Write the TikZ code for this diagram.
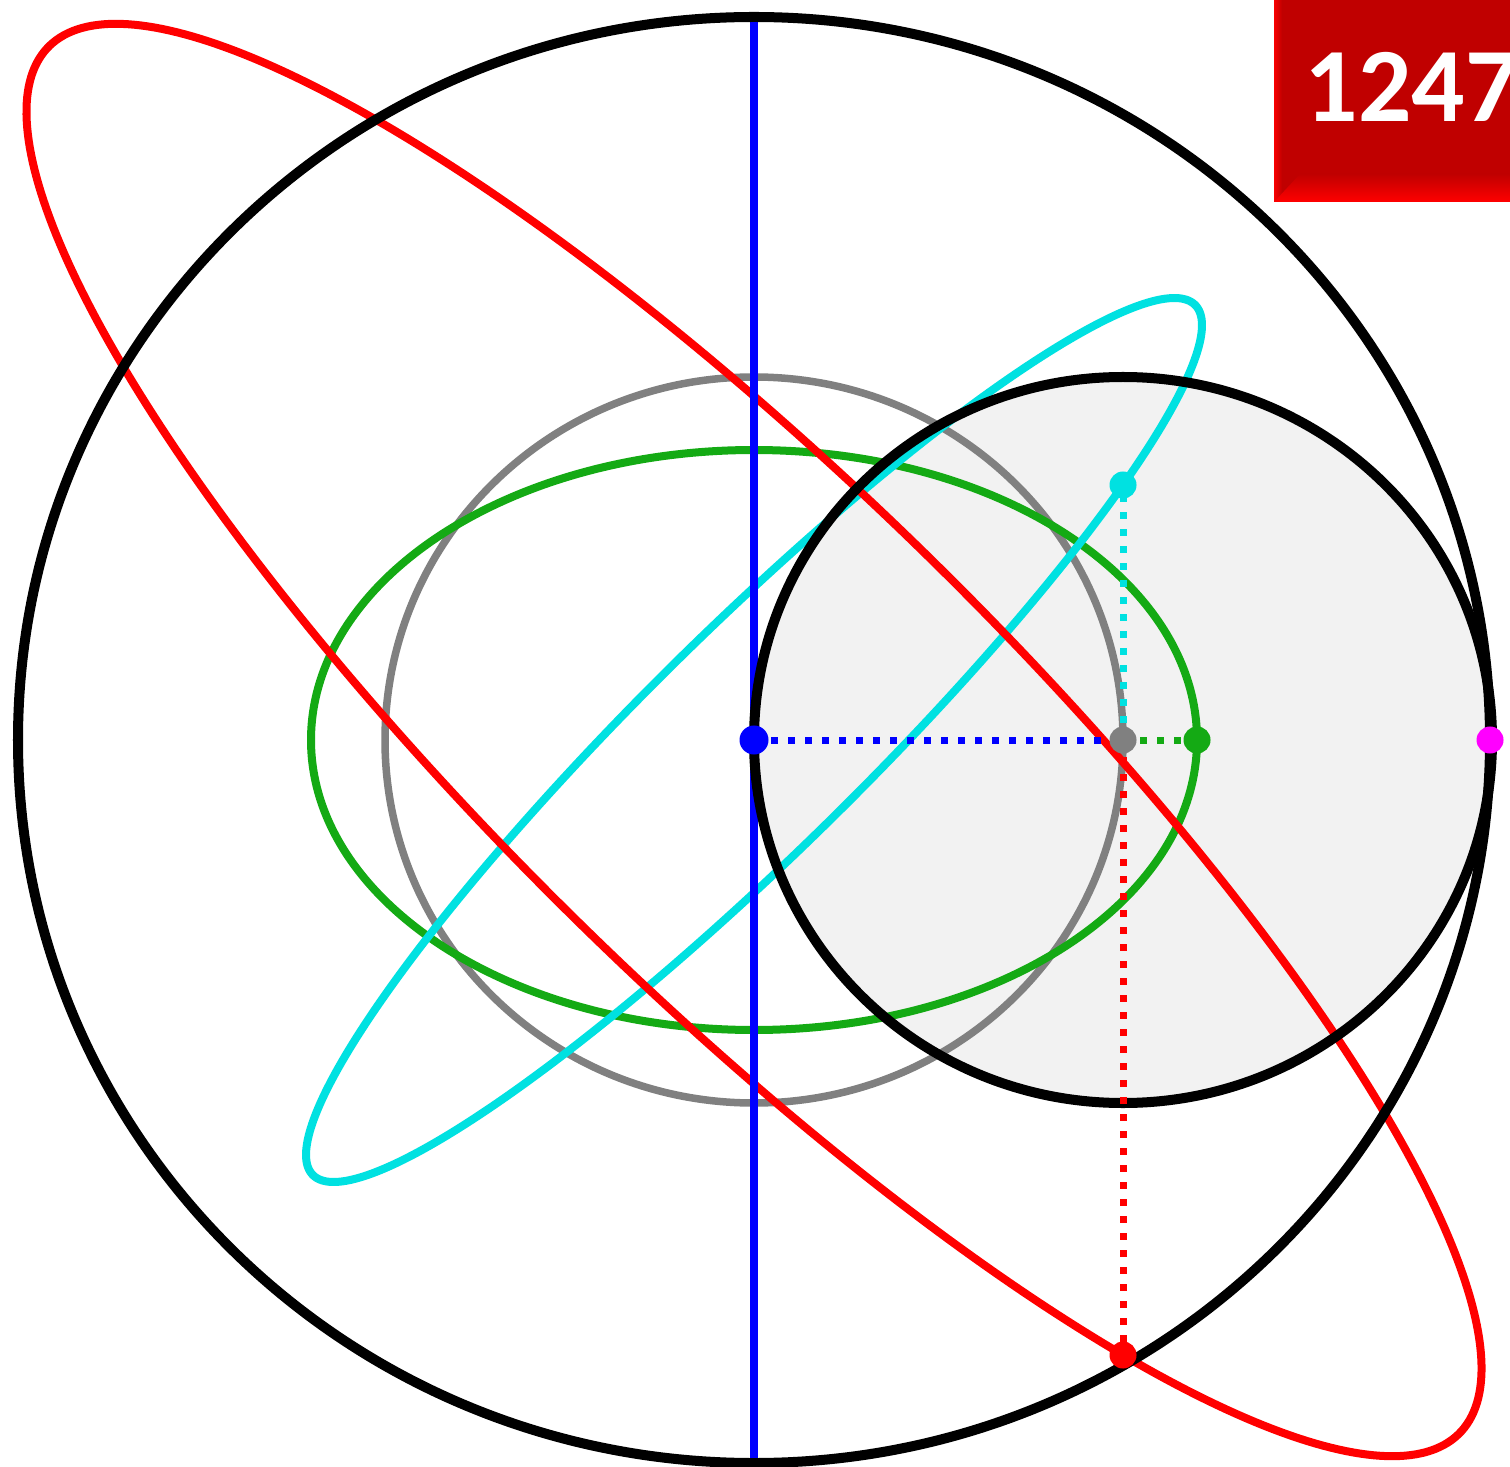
\documentclass[tikz,border=0pt]{standalone}
\usepackage{fontspec}
\newfontfamily\labelfont{Carlito}
\definecolor{cyanc}{RGB}{0,225,225}
\definecolor{greenc}{RGB}{20,170,20}
\definecolor{grayc}{RGB}{128,128,128}
\definecolor{fillc}{RGB}{242,242,242}
\definecolor{boxred}{RGB}{192,0,0}
\definecolor{magc}{RGB}{255,0,255}
\begin{document}
\begin{tikzpicture}[x=0.01cm,y=0.01cm,
  blackline/.style={draw=black,line width=0.10cm},
  curve/.style={line width=0.08cm},
  dotline/.style={line width=0.07cm,dash pattern=on 0.07cm off 0.10cm},
  pt/.style={circle,inner sep=0pt,minimum size=0.27cm,fill=#1}]
\useasboundingbox[fill=white] (0,0) rectangle (1510,1466);
% centres
\coordinate (C) at (754,726);
\coordinate (S) at (1123,726);
% small circle fill
\fill[fillc] (S) ellipse [x radius=369, y radius=363];
% gray circle
\draw[grayc,line width=0.075cm] (C) ellipse [x radius=369, y radius=363];
% green ellipse
\draw[greenc,curve] (C) ellipse [x radius=443, y radius=290];
% cyan ellipse
\draw[cyanc,curve] plot[domain=0:360,samples=361] ({754+369*cos(\x)+254*sin(\x)},{726+255*cos(\x)+361*sin(\x)}) -- cycle;
% red ellipse
\draw[red,curve] plot[domain=0:360,samples=361] ({754+369*cos(\x)+627*sin(\x)},{726-615*cos(\x)-367*sin(\x)}) -- cycle;
% blue axis
\coordinate (top) at (754,1451);
\coordinate (bot) at (754,5);
\draw[blue,line width=0.085cm] (top) -- (bot);
% black circles
\draw[blackline] (C) ellipse [x radius=736, y radius=723];
\draw[blackline] (S) ellipse [x radius=369, y radius=363];
% points
\coordinate (pB) at (754,726);
\coordinate (pG) at (1123,726);
\coordinate (pGr) at (1197,726);
\coordinate (pM) at (1490,726);
\coordinate (pC) at (1123,981);
\coordinate (pR) at (1123,111);
% dotted lines
\draw[blue,dotline] (pB) -- (pG);
\draw[greenc,dotline] (pG) -- (pGr);
\draw[cyanc,dotline] (pG) -- (pC);
\draw[red,dotline] (pG) -- (pR);
% dots
\node[pt=blue,minimum size=0.29cm] (dB) at (pB) {};
\node[pt=grayc] (dG) at (pG) {};
\node[pt=greenc] (dGr) at (pGr) {};
\node[pt=magc] (dM) at (pM) {};
\node[pt=cyanc] (dC) at (pC) {};
\node[pt=red] (dR) at (pR) {};
% label box
\begin{scope}
\clip (1274,1264) rectangle (1510,1466);
\fill[boxred] (1274,1264) rectangle (1510,1466);
\shade[left color=red!90!boxred,right color=boxred] (1274,1264) -- (1282,1272) -- (1282,1466) -- (1274,1466) -- cycle;
\shade[top color=boxred,bottom color=red] (1274,1264) -- (1510,1264) -- (1510,1292) -- (1300,1292) -- cycle;
\node[anchor=base west,inner sep=0pt,text=white,font=\labelfont\bfseries\fontsize{30}{30}\selectfont] (lab) at (1304,1344) {1247};
\end{scope}
\end{tikzpicture}
\end{document}
